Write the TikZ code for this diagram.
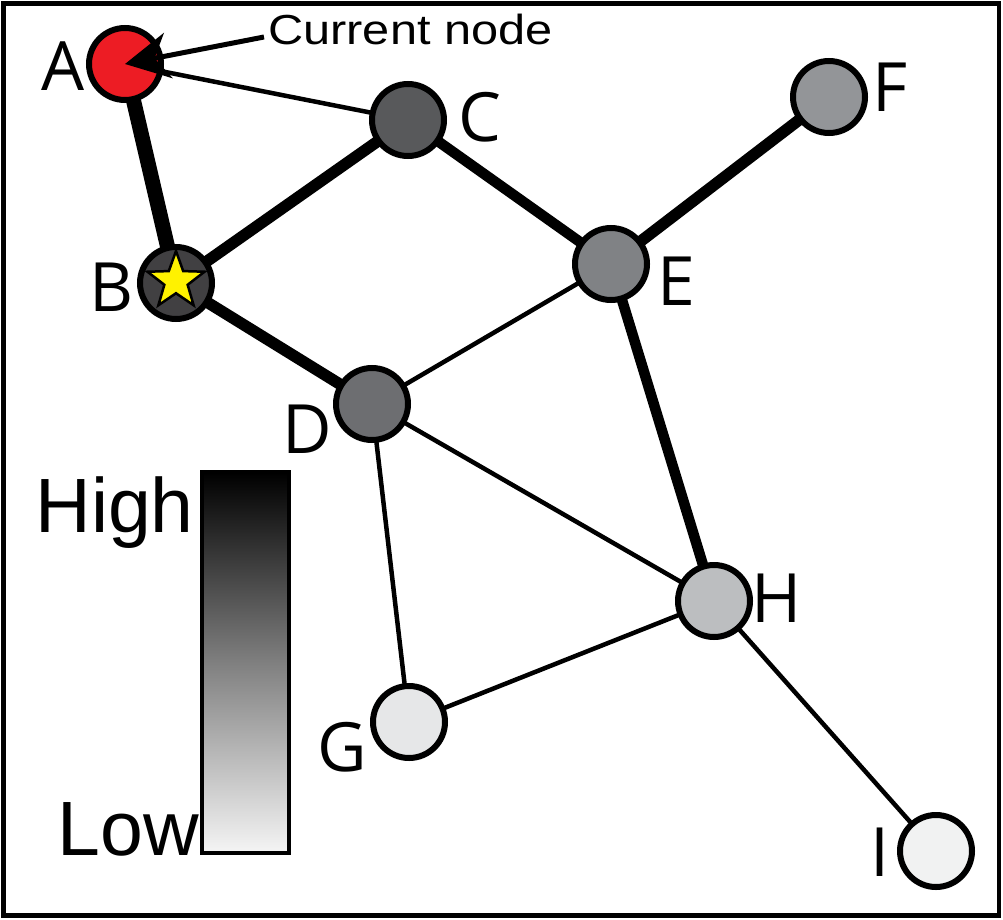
\documentclass[tikz,border=0pt]{standalone}
\usepackage{fontspec}
\setmainfont{Liberation Sans}
\newfontfamily\lblfont{Open Sans}
\usetikzlibrary{arrows.meta,shapes.geometric,backgrounds}
\definecolor{cA}{HTML}{ED1C24}
\definecolor{cB}{HTML}{414042}
\definecolor{cC}{HTML}{58595B}
\definecolor{cD}{HTML}{6D6E71}
\definecolor{cE}{HTML}{808285}
\definecolor{cF}{HTML}{939598}
\definecolor{cG}{HTML}{E6E7E8}
\definecolor{cH}{HTML}{BCBEC0}
\definecolor{cI}{HTML}{F1F2F2}
\definecolor{starY}{HTML}{FFF200}
\tikzset{
  vnode/.style={circle, draw=black, line width=6pt, minimum size=72pt, inner sep=0pt},
  vlabel/.style={font=\lblfont\fontsize{68}{68}\selectfont, inner sep=0pt, anchor=center},
  thick edge/.style={line width=11.5pt},
  thin edge/.style={line width=4.5pt},
  legend/.style={font=\fontsize{77}{77}\selectfont, inner sep=0pt},
}
\begin{document}
\begin{tikzpicture}[x=1pt,y=-1pt]
\useasboundingbox (0,0) rectangle (1003,920);
\draw[line width=4.5pt] (3.5,3.5) rectangle (999,915.5);

% nodes
\node[vnode, fill=cA] (A) at (125,64) {};
\node[vnode, fill=cB] (B) at (176,283) {};
\node[vnode, fill=cC] (C) at (408,120) {};
\node[vnode, fill=cD] (D) at (372,404) {};
\node[vnode, fill=cE] (E) at (611,264) {};
\node[vnode, fill=cF] (F) at (829,97) {};
\node[vnode, fill=cG] (G) at (409,722) {};
\node[vnode, fill=cH] (H) at (714,601) {};
\node[vnode, fill=cI] (I) at (936,851) {};
\node[star, star points=5, star point ratio=2.45, minimum size=60pt, inner sep=0pt,
      fill=starY, draw=black, line width=2.5pt] (S) at (176,281) {};

% edges
\begin{scope}[on background layer]
\draw[line width=15pt] (A.center) -- (B.center);
\draw[thick edge] (B.center) -- (C.center);
\draw[thick edge] (B.center) -- (D.center);
\draw[line width=10.5pt] (C.center) -- (E.center);
\draw[thick edge] (E.center) -- (F.center);
\draw[line width=10.5pt] (E.center) -- (H.center);
\draw[thin edge] (A.center) -- (C.center);
\draw[thin edge] (D.center) -- (E.center);
\draw[thin edge] (D.center) -- (H.center);
\draw[thin edge] (D.center) -- (G.center);
\draw[thin edge] (G.center) -- (H.center);
\draw[thin edge] (H.center) -- (I.center);
\end{scope}

% labels
\node[vlabel] (lA) at (63,66) {A};
\node[vlabel] (lB) at (112,287) {B};
\node[vlabel] (lC) at (480,117) {C};
\node[vlabel] (lD) at (307,429) {D};
\node[vlabel] (lE) at (676,281) {E};
\node[vlabel] (lF) at (890,87) {F};
\node[vlabel] (lG) at (342,747) {G};
\node[vlabel] (lH) at (777,598) {H};
\node[vlabel] (lI) at (880,852) {I};

% current node pointer
\node[anchor=west, inner sep=0pt, font=\fontsize{42}{42}\selectfont] (cur) at (268,29) {\scalebox{1.16}[1]{Current node}};
\coordinate (curstart) at (264,37);
\draw[line width=5pt, -{Stealth[length=44pt,width=46pt,inset=14pt]}] (curstart) -- (A.center);

% legend
\draw[line width=4pt, top color=black, bottom color=black!4, middle color=black!50] (202,472) rectangle (289,853);
\node[legend, anchor=base east] (high) at (194,532) {High};
\node[legend, anchor=base east] (low) at (199,855) {Low};
\end{tikzpicture}
\end{document}
